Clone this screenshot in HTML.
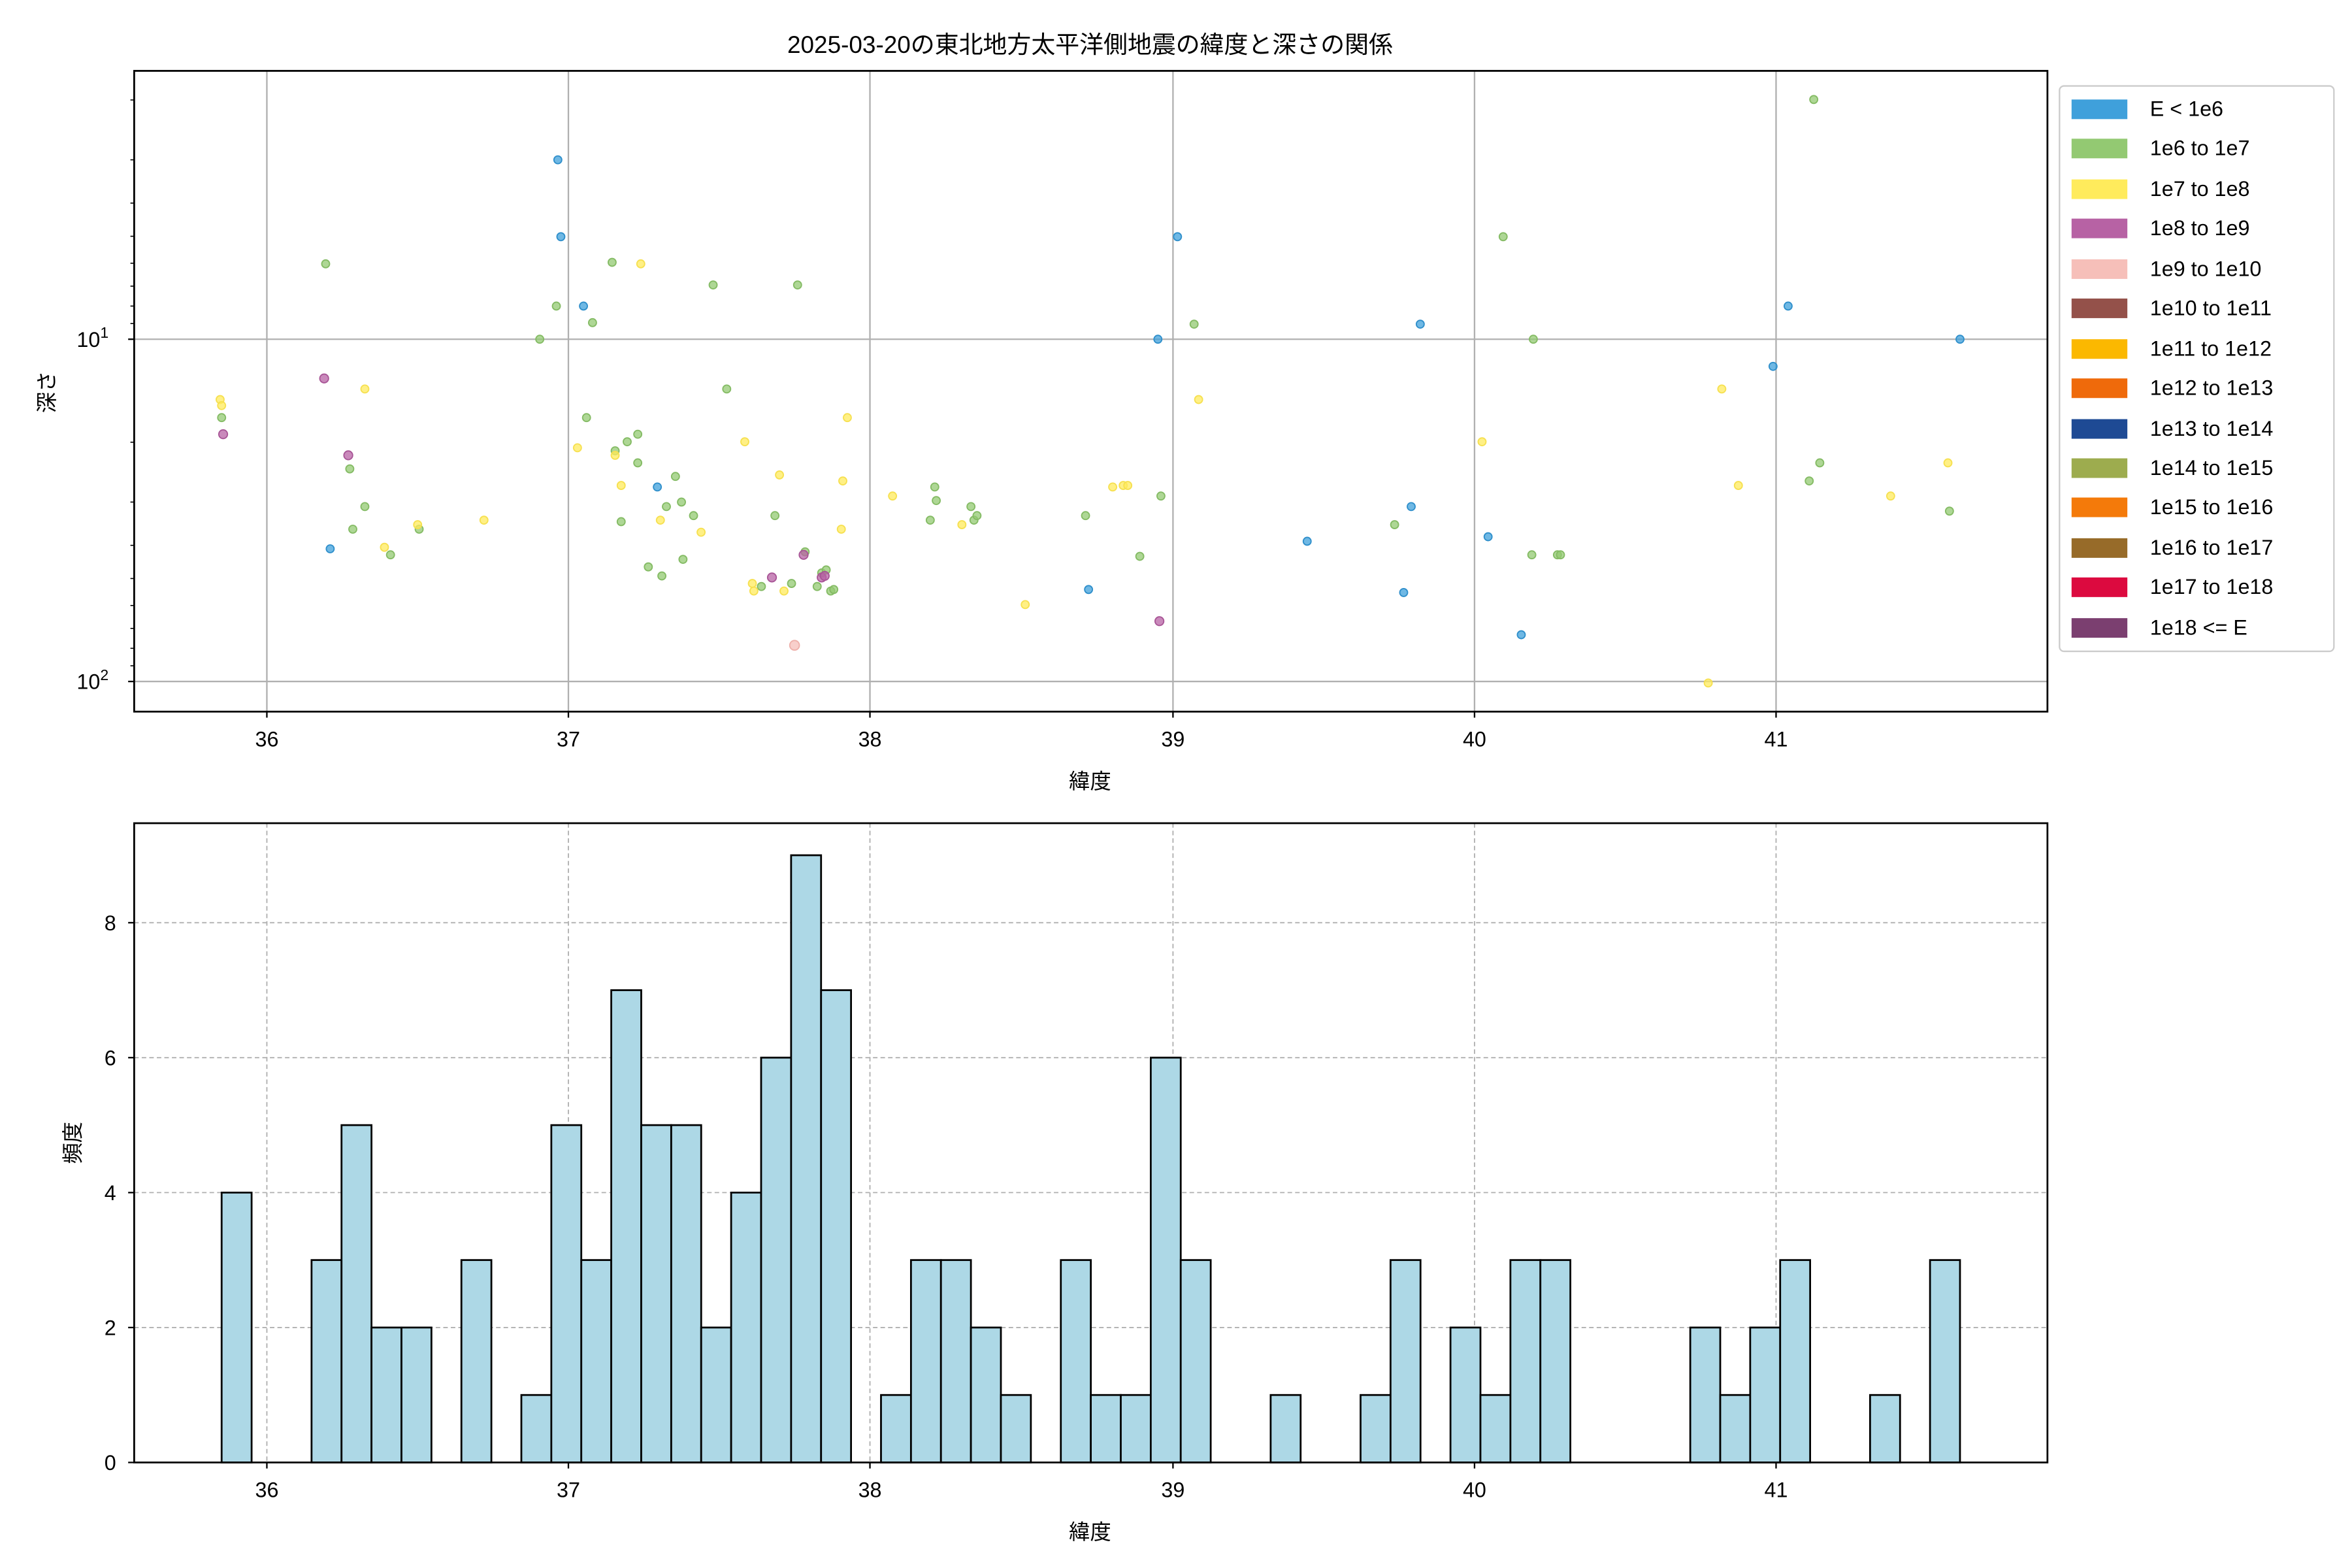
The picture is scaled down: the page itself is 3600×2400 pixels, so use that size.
<!DOCTYPE html>
<html><head><meta charset="utf-8"><style>
html,body{margin:0;padding:0;background:#fff}
svg{display:block}
text{font-family:"Liberation Sans","Noto Sans CJK JP",sans-serif;fill:#000}
</style></head><body>
<svg xmlns="http://www.w3.org/2000/svg" width="3600" height="2400" viewBox="0 0 1560 1040">
<rect width="1560" height="1040" fill="#fff"/>
<text x="723" y="35" font-size="16" text-anchor="middle">2025-03-20の東北地方太平洋側地震の緯度と深さの関係</text>
<g stroke="#b0b0b0" stroke-width="1">
<line x1="177" y1="47" x2="177" y2="472"/><line x1="377" y1="47" x2="377" y2="472"/><line x1="577" y1="47" x2="577" y2="472"/><line x1="778" y1="47" x2="778" y2="472"/><line x1="978" y1="47" x2="978" y2="472"/><line x1="1178" y1="47" x2="1178" y2="472"/>
<line x1="89" y1="225" x2="1358" y2="225"/><line x1="89" y1="452" x2="1358" y2="452"/>
</g>
<g stroke-width="0.8" fill-opacity="0.75">
<g fill="#3fa0db" stroke="#2f8fcb">
<circle cx="370" cy="106" r="2.6"/><circle cx="372" cy="157" r="2.6"/><circle cx="387" cy="203" r="2.6"/><circle cx="436" cy="323" r="2.6"/><circle cx="219" cy="364" r="2.6"/><circle cx="768" cy="225" r="2.6"/><circle cx="781" cy="157" r="2.6"/><circle cx="722" cy="391" r="2.6"/><circle cx="867" cy="359" r="2.6"/><circle cx="931" cy="393" r="2.6"/><circle cx="936" cy="336" r="2.6"/><circle cx="942" cy="215" r="2.6"/><circle cx="987" cy="356" r="2.6"/><circle cx="1009" cy="421" r="2.6"/><circle cx="1176" cy="243" r="2.6"/><circle cx="1186" cy="203" r="2.6"/><circle cx="1300" cy="225" r="2.6"/>
</g>
<g fill="#93c972" stroke="#84bb64">
<circle cx="216" cy="175" r="2.6"/><circle cx="147" cy="277" r="2.6"/><circle cx="232" cy="311" r="2.6"/><circle cx="234" cy="351" r="2.6"/><circle cx="242" cy="336" r="2.6"/><circle cx="259" cy="368" r="2.6"/><circle cx="278" cy="351" r="2.6"/><circle cx="358" cy="225" r="2.6"/><circle cx="369" cy="203" r="2.6"/><circle cx="393" cy="214" r="2.6"/><circle cx="389" cy="277" r="2.6"/><circle cx="406" cy="174" r="2.6"/><circle cx="408" cy="299" r="2.6"/><circle cx="412" cy="346" r="2.6"/><circle cx="416" cy="293" r="2.6"/><circle cx="423" cy="288" r="2.6"/><circle cx="423" cy="307" r="2.6"/><circle cx="430" cy="376" r="2.6"/><circle cx="439" cy="382" r="2.6"/><circle cx="442" cy="336" r="2.6"/><circle cx="448" cy="316" r="2.6"/><circle cx="452" cy="333" r="2.6"/><circle cx="453" cy="371" r="2.6"/><circle cx="460" cy="342" r="2.6"/><circle cx="473" cy="189" r="2.6"/><circle cx="482" cy="258" r="2.6"/><circle cx="514" cy="342" r="2.6"/><circle cx="529" cy="189" r="2.6"/><circle cx="505" cy="389" r="2.6"/><circle cx="525" cy="387" r="2.6"/><circle cx="534" cy="366" r="2.6"/><circle cx="542" cy="389" r="2.6"/><circle cx="545" cy="380" r="2.6"/><circle cx="548" cy="378" r="2.6"/><circle cx="551" cy="392" r="2.6"/><circle cx="553" cy="391" r="2.6"/><circle cx="620" cy="323" r="2.6"/><circle cx="621" cy="332" r="2.6"/><circle cx="617" cy="345" r="2.6"/><circle cx="644" cy="336" r="2.6"/><circle cx="646" cy="345" r="2.6"/><circle cx="648" cy="342" r="2.6"/><circle cx="720" cy="342" r="2.6"/><circle cx="756" cy="369" r="2.6"/><circle cx="770" cy="329" r="2.6"/><circle cx="792" cy="215" r="2.6"/><circle cx="925" cy="348" r="2.6"/><circle cx="997" cy="157" r="2.6"/><circle cx="1017" cy="225" r="2.6"/><circle cx="1016" cy="368" r="2.6"/><circle cx="1033" cy="368" r="2.6"/><circle cx="1035" cy="368" r="2.6"/><circle cx="1200" cy="319" r="2.6"/><circle cx="1207" cy="307" r="2.6"/><circle cx="1203" cy="66" r="2.6"/><circle cx="1293" cy="339" r="2.6"/>
</g>
<g fill="#ffeb5c" stroke="#f6e050">
<circle cx="146" cy="265" r="2.6"/><circle cx="147" cy="269" r="2.6"/><circle cx="242" cy="258" r="2.6"/><circle cx="255" cy="363" r="2.6"/><circle cx="277" cy="348" r="2.6"/><circle cx="321" cy="345" r="2.6"/><circle cx="383" cy="297" r="2.6"/><circle cx="408" cy="302" r="2.6"/><circle cx="412" cy="322" r="2.6"/><circle cx="425" cy="175" r="2.6"/><circle cx="438" cy="345" r="2.6"/><circle cx="465" cy="353" r="2.6"/><circle cx="494" cy="293" r="2.6"/><circle cx="499" cy="387" r="2.6"/><circle cx="500" cy="392" r="2.6"/><circle cx="517" cy="315" r="2.6"/><circle cx="520" cy="392" r="2.6"/><circle cx="558" cy="351" r="2.6"/><circle cx="559" cy="319" r="2.6"/><circle cx="562" cy="277" r="2.6"/><circle cx="592" cy="329" r="2.6"/><circle cx="638" cy="348" r="2.6"/><circle cx="680" cy="401" r="2.6"/><circle cx="738" cy="323" r="2.6"/><circle cx="745" cy="322" r="2.6"/><circle cx="748" cy="322" r="2.6"/><circle cx="795" cy="265" r="2.6"/><circle cx="983" cy="293" r="2.6"/><circle cx="1142" cy="258" r="2.6"/><circle cx="1153" cy="322" r="2.6"/><circle cx="1133" cy="453" r="2.6"/><circle cx="1254" cy="329" r="2.6"/><circle cx="1292" cy="307" r="2.6"/>
</g>
<g fill="#b762a4" stroke="#a85596">
<circle cx="215" cy="251" r="2.9"/><circle cx="148" cy="288" r="2.9"/><circle cx="231" cy="302" r="2.9"/><circle cx="512" cy="383" r="2.9"/><circle cx="533" cy="368" r="2.9"/><circle cx="545" cy="383" r="2.9"/><circle cx="547" cy="382" r="2.9"/><circle cx="769" cy="412" r="2.9"/>
</g>
<circle cx="527" cy="428" r="3.2" fill="#f6bfb9" stroke="#eeb0aa"/>
</g>
<rect x="89" y="47" width="1269" height="425" fill="none" stroke="#000" stroke-width="1.2"/>
<g stroke="#000" stroke-width="1">
<line x1="177" y1="472" x2="177" y2="476"/><line x1="377" y1="472" x2="377" y2="476"/><line x1="577" y1="472" x2="577" y2="476"/><line x1="778" y1="472" x2="778" y2="476"/><line x1="978" y1="472" x2="978" y2="476"/><line x1="1178" y1="472" x2="1178" y2="476"/>
<line x1="85" y1="225" x2="89" y2="225"/><line x1="85" y1="452" x2="89" y2="452"/>
<g stroke-width="0.7"><line x1="86.5" y1="66.3" x2="89" y2="66.3"/><line x1="86.5" y1="106" x2="89" y2="106"/><line x1="86.5" y1="134.7" x2="89" y2="134.7"/><line x1="86.5" y1="156.7" x2="89" y2="156.7"/><line x1="86.5" y1="174.6" x2="89" y2="174.6"/><line x1="86.5" y1="189.8" x2="89" y2="189.8"/><line x1="86.5" y1="203" x2="89" y2="203"/><line x1="86.5" y1="214.6" x2="89" y2="214.6"/><line x1="86.5" y1="293.3" x2="89" y2="293.3"/><line x1="86.5" y1="333" x2="89" y2="333"/><line x1="86.5" y1="361.7" x2="89" y2="361.7"/><line x1="86.5" y1="383.7" x2="89" y2="383.7"/><line x1="86.5" y1="401.6" x2="89" y2="401.6"/><line x1="86.5" y1="416.8" x2="89" y2="416.8"/><line x1="86.5" y1="430" x2="89" y2="430"/><line x1="86.5" y1="441.6" x2="89" y2="441.6"/></g>
</g>
<g font-size="14" text-anchor="middle">
<text x="177" y="495">36</text><text x="377" y="495">37</text><text x="577" y="495">38</text><text x="778" y="495">39</text><text x="978" y="495">40</text><text x="1178" y="495">41</text>
</g>
<text x="72" y="230" font-size="14" text-anchor="end">10<tspan font-size="10" dy="-6">1</tspan></text>
<text x="72" y="457" font-size="14" text-anchor="end">10<tspan font-size="10" dy="-6">2</tspan></text>
<text x="723" y="523" font-size="14" text-anchor="middle">緯度</text>
<text transform="translate(36,260) rotate(-90)" font-size="14" text-anchor="middle">深さ</text>
<rect x="1366" y="57" width="182" height="375" rx="3" fill="#fff" stroke="#ccc" stroke-width="1"/>
<g font-size="14">
<rect x="1374" y="66" width="37" height="13" fill="#3fa0db"/><text x="1426" y="77">E &lt; 1e6</text>
<rect x="1374" y="92" width="37" height="13" fill="#93c972"/><text x="1426" y="103">1e6 to 1e7</text>
<rect x="1374" y="119" width="37" height="13" fill="#ffeb5c"/><text x="1426" y="130">1e7 to 1e8</text>
<rect x="1374" y="145" width="37" height="13" fill="#b762a4"/><text x="1426" y="156">1e8 to 1e9</text>
<rect x="1374" y="172" width="37" height="13" fill="#f6bfb9"/><text x="1426" y="183">1e9 to 1e10</text>
<rect x="1374" y="198" width="37" height="13" fill="#94514a"/><text x="1426" y="209">1e10 to 1e11</text>
<rect x="1374" y="225" width="37" height="13" fill="#fbb800"/><text x="1426" y="236">1e11 to 1e12</text>
<rect x="1374" y="251" width="37" height="13" fill="#ef6a0b"/><text x="1426" y="262">1e12 to 1e13</text>
<rect x="1374" y="278" width="37" height="13" fill="#1e4a94"/><text x="1426" y="289">1e13 to 1e14</text>
<rect x="1374" y="304" width="37" height="13" fill="#9dac4e"/><text x="1426" y="315">1e14 to 1e15</text>
<rect x="1374" y="330" width="37" height="13" fill="#f47a0a"/><text x="1426" y="341">1e15 to 1e16</text>
<rect x="1374" y="357" width="37" height="13" fill="#976b29"/><text x="1426" y="368">1e16 to 1e17</text>
<rect x="1374" y="383" width="37" height="13" fill="#dc0a3f"/><text x="1426" y="394">1e17 to 1e18</text>
<rect x="1374" y="410" width="37" height="13" fill="#7b3f70"/><text x="1426" y="421">1e18 &lt;= E</text>
</g>
<g stroke="#b0b0b0" stroke-width="0.8" stroke-dasharray="3,2">
<line x1="177" y1="546" x2="177" y2="970"/><line x1="377" y1="546" x2="377" y2="970"/><line x1="577" y1="546" x2="577" y2="970"/><line x1="778" y1="546" x2="778" y2="970"/><line x1="978" y1="546" x2="978" y2="970"/><line x1="1178" y1="546" x2="1178" y2="970"/>
<line x1="89" y1="880.5" x2="1358" y2="880.5"/><line x1="89" y1="791" x2="1358" y2="791"/><line x1="89" y1="701.5" x2="1358" y2="701.5"/><line x1="89" y1="612" x2="1358" y2="612"/>
</g>
<g fill="#add8e6" stroke="#000" stroke-width="1.2">
<rect x="147.00" y="791" width="19.88" height="179"/>
<rect x="206.64" y="835.75" width="19.88" height="134.25"/>
<rect x="226.52" y="746.25" width="19.88" height="223.75"/>
<rect x="246.40" y="880.5" width="19.88" height="89.5"/>
<rect x="266.28" y="880.5" width="19.88" height="89.5"/>
<rect x="306.03" y="835.75" width="19.88" height="134.25"/>
<rect x="345.79" y="925.25" width="19.88" height="44.75"/>
<rect x="365.67" y="746.25" width="19.88" height="223.75"/>
<rect x="385.55" y="835.75" width="19.88" height="134.25"/>
<rect x="405.43" y="656.75" width="19.88" height="313.25"/>
<rect x="425.31" y="746.25" width="19.88" height="223.75"/>
<rect x="445.19" y="746.25" width="19.88" height="223.75"/>
<rect x="465.07" y="880.5" width="19.88" height="89.5"/>
<rect x="484.95" y="791" width="19.88" height="179"/>
<rect x="504.83" y="701.5" width="19.88" height="268.5"/>
<rect x="524.71" y="567.25" width="19.88" height="402.75"/>
<rect x="544.59" y="656.75" width="19.88" height="313.25"/>
<rect x="584.34" y="925.25" width="19.88" height="44.75"/>
<rect x="604.22" y="835.75" width="19.88" height="134.25"/>
<rect x="624.10" y="835.75" width="19.88" height="134.25"/>
<rect x="643.98" y="880.5" width="19.88" height="89.5"/>
<rect x="663.86" y="925.25" width="19.88" height="44.75"/>
<rect x="703.62" y="835.75" width="19.88" height="134.25"/>
<rect x="723.50" y="925.25" width="19.88" height="44.75"/>
<rect x="743.38" y="925.25" width="19.88" height="44.75"/>
<rect x="763.26" y="701.5" width="19.88" height="268.5"/>
<rect x="783.14" y="835.75" width="19.88" height="134.25"/>
<rect x="842.78" y="925.25" width="19.88" height="44.75"/>
<rect x="902.41" y="925.25" width="19.88" height="44.75"/>
<rect x="922.29" y="835.75" width="19.88" height="134.25"/>
<rect x="962.05" y="880.5" width="19.88" height="89.5"/>
<rect x="981.93" y="925.25" width="19.88" height="44.75"/>
<rect x="1001.81" y="835.75" width="19.88" height="134.25"/>
<rect x="1021.69" y="835.75" width="19.88" height="134.25"/>
<rect x="1121.09" y="880.5" width="19.88" height="89.5"/>
<rect x="1140.97" y="925.25" width="19.88" height="44.75"/>
<rect x="1160.84" y="880.5" width="19.88" height="89.5"/>
<rect x="1180.72" y="835.75" width="19.88" height="134.25"/>
<rect x="1240.36" y="925.25" width="19.88" height="44.75"/>
<rect x="1280.12" y="835.75" width="19.88" height="134.25"/>
</g>
<rect x="89" y="546" width="1269" height="424" fill="none" stroke="#000" stroke-width="1.2"/>
<g stroke="#000" stroke-width="1">
<line x1="177" y1="970" x2="177" y2="974"/><line x1="377" y1="970" x2="377" y2="974"/><line x1="577" y1="970" x2="577" y2="974"/><line x1="778" y1="970" x2="778" y2="974"/><line x1="978" y1="970" x2="978" y2="974"/><line x1="1178" y1="970" x2="1178" y2="974"/>
<line x1="85" y1="970" x2="89" y2="970"/><line x1="85" y1="880.5" x2="89" y2="880.5"/><line x1="85" y1="791" x2="89" y2="791"/><line x1="85" y1="701.5" x2="89" y2="701.5"/><line x1="85" y1="612" x2="89" y2="612"/>
</g>
<g font-size="14" text-anchor="middle">
<text x="177" y="993">36</text><text x="377" y="993">37</text><text x="577" y="993">38</text><text x="778" y="993">39</text><text x="978" y="993">40</text><text x="1178" y="993">41</text>
</g>
<g font-size="14" text-anchor="end">
<text x="77" y="975">0</text><text x="77" y="885.5">2</text><text x="77" y="796">4</text><text x="77" y="706.5">6</text><text x="77" y="617">8</text>
</g>
<text x="723" y="1021" font-size="14" text-anchor="middle">緯度</text>
<text transform="translate(53,758) rotate(-90)" font-size="14" text-anchor="middle">頻度</text>
</svg>
</body></html>
